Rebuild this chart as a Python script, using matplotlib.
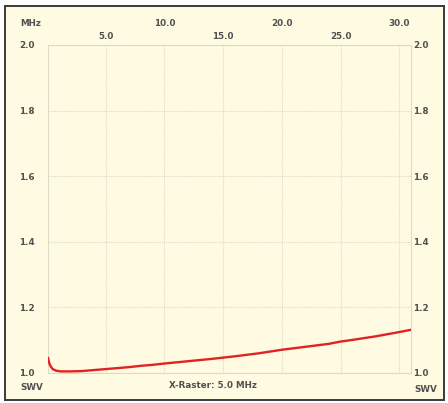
import matplotlib
matplotlib.use("Agg")
import matplotlib.pyplot as plt
from matplotlib.patches import Rectangle

# Frequency sweep (MHz) and measured SWR
freq_mhz = [0.1, 0.2, 0.35, 0.5, 0.8, 1.2, 2.0, 3.0, 4.0, 5.0, 6.0, 7.0, 8.0,
            9.0, 10.0, 12.0, 14.0, 15.0, 16.0, 18.0, 20.0, 22.0, 24.0, 25.0,
            26.0, 28.0, 30.0, 31.0]
swr = [1.046, 1.030, 1.018, 1.011, 1.006, 1.004, 1.004, 1.005, 1.008, 1.011,
       1.014, 1.017, 1.021, 1.024, 1.028, 1.035, 1.042, 1.046, 1.050, 1.059,
       1.070, 1.079, 1.088, 1.095, 1.100, 1.111, 1.124, 1.131]

x_ticks = [5.0, 10.0, 15.0, 20.0, 25.0, 30.0]
x_tick_labels = ["5.0", "10.0", "15.0", "20.0", "25.0", "30.0"]
y_ticks = [1.0, 1.2, 1.4, 1.6, 1.8, 2.0]
y_tick_labels = ["1.0", "1.2", "1.4", "1.6", "1.8", "2.0"]

W, H = 448, 403
BG = "#fffbe2"
TXT = "#505050"
GRID = "#dcdac8"
FS = 6.3

fig = plt.figure(figsize=(W / 100, H / 100), dpi=100)
fig.patch.set_facecolor("white")

# Framed panel behind the chart
frame = Rectangle((5 / W, 1 - 400 / H), 439 / W, 394 / H,
                  transform=fig.transFigure, facecolor=BG,
                  edgecolor="#3a3a3a", linewidth=1.4, zorder=-10)
fig.patches.append(frame)

L, R, T, B = 48, 411, 45, 372.7
ax = fig.add_axes([L / W, 1 - B / H, (R - L) / W, (B - T) / H])
ax.set_facecolor("none")
ax.set_xlim(0.1, 31.0)
ax.set_ylim(1.0, 2.0)

for s in ax.spines.values():
    s.set_color(GRID)
    s.set_linestyle((0, (1, 1)))
    s.set_linewidth(0.8)

ax.set_xticks(x_ticks)
ax.set_xticklabels(x_tick_labels)
ax.set_yticks(y_ticks)
ax.set_yticklabels(y_tick_labels)
ax.grid(True, color=GRID, linestyle=(0, (1, 1)), linewidth=0.8)

ax.tick_params(axis="x", length=0, bottom=False, labelbottom=False,
               top=False, labeltop=True, labelcolor=TXT, labelsize=FS)
ax.tick_params(axis="y", length=0, left=False, right=False, pad=21,
               labelleft=True, labelright=False, labelcolor=TXT, labelsize=FS)

# Staggered top labels: multiples of 10 sit one row higher
for tick, val in zip(ax.xaxis.get_major_ticks(), x_ticks):
    tick.set_pad(12.5 if int(val) % 10 == 0 else 3.2)
    tick.label2.set_fontweight("bold")

for tick in ax.yaxis.get_major_ticks():
    tick.label1.set_horizontalalignment("left")
    tick.label1.set_fontweight("bold")

# Right-hand SWR scale
sec = ax.secondary_yaxis("right")
sec.set_yticks(y_ticks)
sec.set_yticklabels(y_tick_labels)
sec.tick_params(axis="y", length=0, pad=1.5, labelcolor=TXT, labelsize=FS)
sec.spines["right"].set_visible(False)
for lab in sec.get_yticklabels():
    lab.set_fontweight("bold")

ax.plot(freq_mhz, swr, color="#e02222", linewidth=1.7, solid_capstyle="round",
        zorder=3)

font = dict(family="DejaVu Sans", size=FS, weight="bold", color=TXT)
fig.text(20 / W, 1 - 23 / H, "MHz", ha="left", va="center", **font)
fig.text(20 / W, 1 - 387 / H, "SWV", ha="left", va="center", **font)
fig.text(414 / W, 1 - 389 / H, "SWV", ha="left", va="center", **font)
fig.text(213 / W, 1 - 386 / H, "X-Raster: 5.0 MHz", ha="center", va="center",
         **font)

fig.savefig("out.png", dpi=100, facecolor="white")
